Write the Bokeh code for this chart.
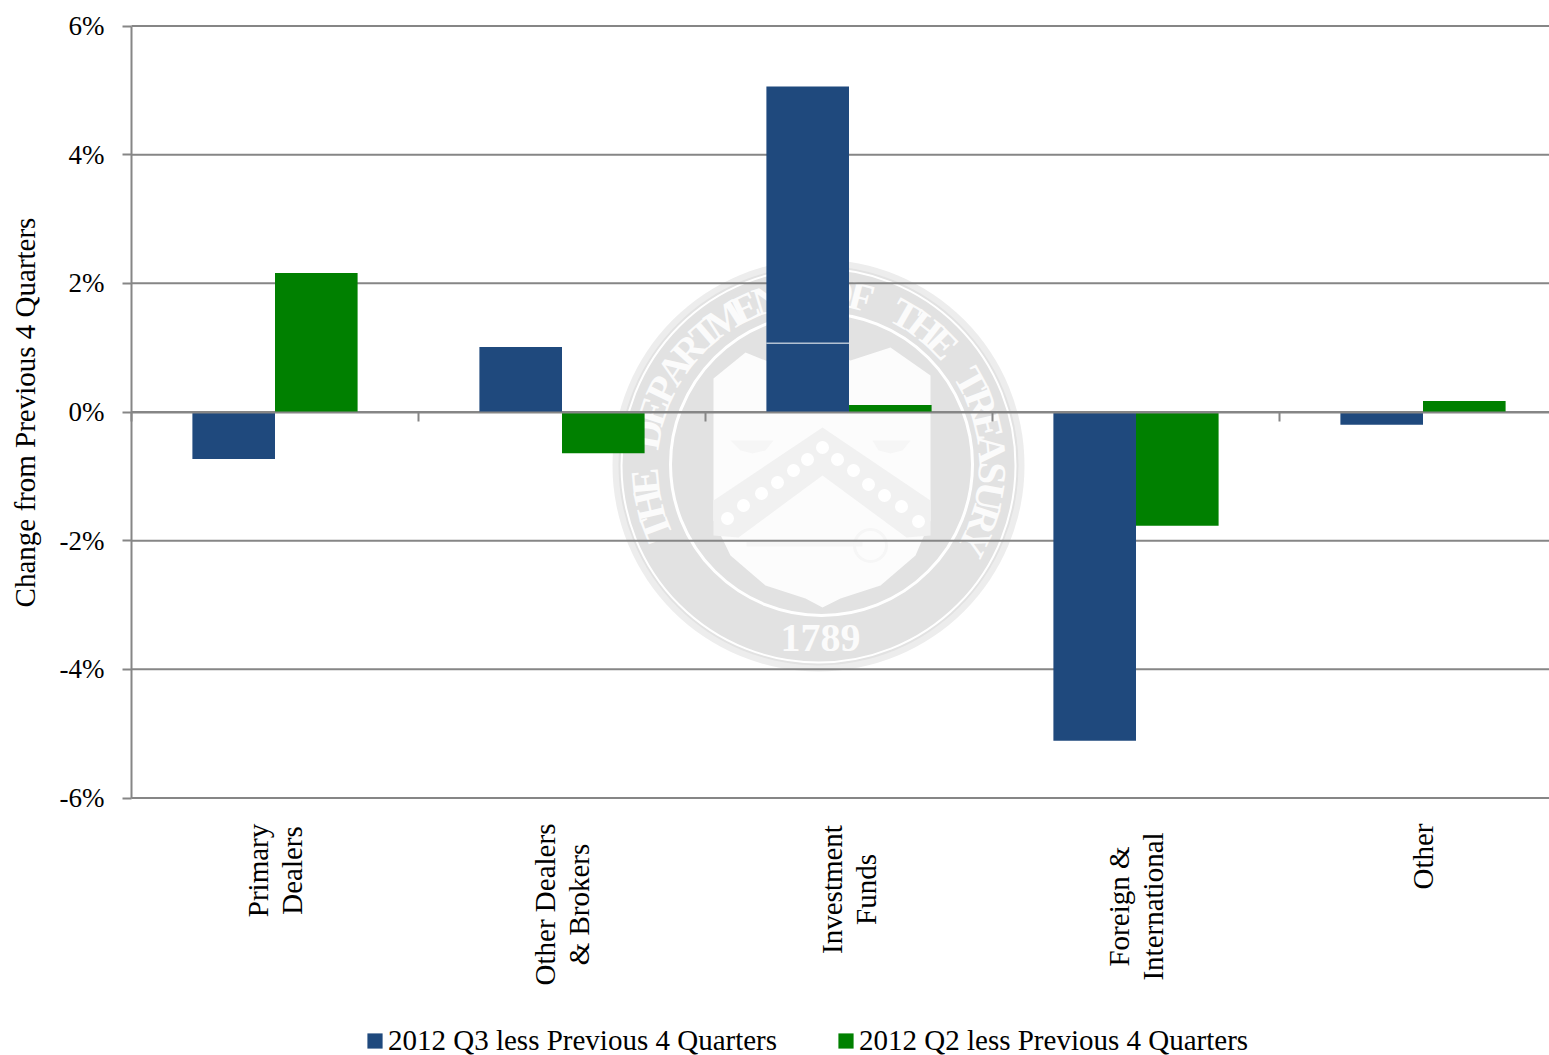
import math
from bokeh.plotting import figure
from bokeh.embed import file_html
from bokeh.resources import INLINE
from bokeh.core.properties import value
from bokeh.models import ColumnDataSource, FixedTicker, Legend, LegendItem, LinearAxis, Range1d, Label

categories = ["Primary\nDealers", "Other Dealers\n& Brokers", "Investment\nFunds", "Foreign &\nInternational", "Other"]
q3_label = "2012 Q3 less Previous 4 Quarters"
q2_label = "2012 Q2 less Previous 4 Quarters"
q3_values = [-0.73, 1.01, 5.06, -5.11, -0.20]
q2_values = [2.16, -0.64, 0.11, -1.77, 0.17]
y_ticks = [-6, -4, -2, 0, 2, 4, 6]
y_tick_labels = ["-6%", "-4%", "-2%", "0%", "2%", "4%", "6%"]
y_title = "Change from Previous 4 Quarters"
seal_text = "THE DEPARTMENT OF THE TREASURY"
seal_year = "1789"

FONT = "Liberation Serif"
FS = "29px"
W, H = 1549, 1055
LEFT, TOP, RIGHT, BOTTOM = 131, 25.5, 1549, 797.5
CAT_W = 287.0
BLUE, GREEN, GRID = "#1f497d", "#008000", "#868686"
SEAL, SEAL_LIGHT, SHIELD, CHEVRON = "#e2e2e2", "#ededed", "#fcfcfc", "#f1f1f1"


def px(x):
    return (x - LEFT) / CAT_W


def py(y):
    return 6 - (y - TOP) / ((BOTTOM - TOP) / 12)


def rad(r):
    return r / CAT_W


# The frame fills the canvas, so the texts below the plot are not cut by it.
p = figure(width=W, height=H, output_backend="svg", toolbar_location=None,
           x_range=Range1d(px(0), px(W)), y_range=Range1d(py(H), py(0)),
           min_border_left=0, min_border_right=0, min_border_top=0, min_border_bottom=0,
           x_axis_type=None, y_axis_type=None,
           outline_line_color=None, background_fill_color="white", border_fill_color="white")


def disc(cx, cy, r, fill=None, line=None, lw=1):
    p.circle(x=[px(cx)], y=[py(cy)], radius=rad(r), fill_color=fill, line_color=line, line_width=lw,
             fill_alpha=1 if fill else 0, level="image")


def poly(points, color):
    p.patch([px(a) for a, b in points], [py(b) for a, b in points], fill_color=color, line_color=None, level="image")


# Watermark seal, behind the grid and the bars
CX, CY = 818, 465
disc(CX, CY, 206, SEAL_LIGHT)
disc(CX, CY, 200, SEAL)
disc(CX, CY, 197, None, "white", 2)
disc(CX + 3, CY - 1, 151, None, "white", 3)

poly([(713, 378), (745, 352), (770, 362), (800, 352), (822, 350), (850, 360), (890, 347), (930, 375),
      (930, 520), (915, 555), (880, 585), (840, 598), (822, 607), (805, 598), (765, 585), (730, 555), (713, 520)], SHIELD)
poly([(713, 500), (822, 427), (930, 500), (930, 535), (906, 537), (822, 475), (738, 537), (713, 535)], CHEVRON)
poly([(730, 440), (773, 440), (765, 450), (752, 453), (740, 450)], "#f6f6f6")
poly([(872, 440), (910, 440), (902, 450), (890, 453), (878, 450)], "#f6f6f6")
poly([(746, 541), (862, 541), (862, 546), (746, 546)], "#f6f6f6")
disc(870, 545, 16, None, "#f6f6f6", 3)
dot_x = [727, 743, 761, 777, 793, 807, 822, 837, 853, 868, 884, 901, 918]
dot_y = [518, 505, 493, 482, 470, 459, 447, 459, 470, 484, 495, 506, 521]
p.scatter(x=[px(v) for v in dot_x], y=[py(v) for v in dot_y], size=13, fill_color="white", line_color=None, level="image")

n = len(seal_text)
start, end = math.radians(201), math.radians(-26)
xs, ys, angs, chars = [], [], [], []
for i, ch in enumerate(seal_text):
    a = start + (end - start) * i / (n - 1)
    xs.append(px(CX + 174 * math.cos(a)))
    ys.append(py(CY - 174 * math.sin(a)))
    angs.append(a - math.pi / 2)
    chars.append(ch)
p.text(x=xs, y=ys, text=chars, angle=angs, text_align="center", text_baseline="middle",
       text_color="#fbfbfb", text_font=value(FONT), text_font_size="40px", text_font_style="bold", level="image")
p.text(x=[px(820)], y=[py(637)], text=[seal_year], text_align="center", text_baseline="middle",
       text_color="#fbfbfb", text_font=value(FONT), text_font_size="40px", text_font_style="bold", level="image")

# Grid lines, over the seal and under the bars
x_end = px(W)
p.segment(x0=[0] * len(y_ticks), x1=[x_end] * len(y_ticks), y0=y_ticks, y1=y_ticks, line_color=GRID, line_width=2)

# Bars
x_centers = [i + 0.5 for i in range(len(categories))]
bar_w = 82.6 / CAT_W
src = ColumnDataSource(dict(x=x_centers, q3=q3_values, q2=q2_values,
                            x3=[c - bar_w / 2 for c in x_centers], x2=[c + bar_w / 2 for c in x_centers]))
r3 = p.vbar(x="x3", top="q3", bottom=0, width=bar_w, source=src, fill_color=BLUE, line_color=None)
r2 = p.vbar(x="x2", top="q2", bottom=0, width=bar_w, source=src, fill_color=GREEN, line_color=None)
# thin white hairline that crosses the tall Investment Funds bar
p.segment(x0=[x_centers[2] - bar_w], x1=[x_centers[2]], y0=[1.07], y1=[1.07], line_color="white", line_width=1)

# Axes
yax = LinearAxis(fixed_location=0, bounds=(y_ticks[0], y_ticks[-1]), ticker=FixedTicker(ticks=y_ticks),
                 major_label_overrides=dict(zip(y_ticks, y_tick_labels)),
                 axis_line_color=GRID, axis_line_width=2, major_tick_line_color=GRID, major_tick_line_width=2,
                 major_tick_out=9, major_tick_in=0, minor_tick_line_color=None,
                 major_label_text_font=FONT, major_label_text_font_size="27px", major_label_text_color="#000000",
                 major_label_standoff=18, axis_label=y_title, axis_label_text_font=FONT,
                 axis_label_text_font_size=FS, axis_label_text_font_style="normal",
                 axis_label_text_color="#000000", axis_label_standoff=16)
p.add_layout(yax, "left")

zero_ticks = [0, 1, 2, 3, 4]
zero = LinearAxis(fixed_location=0, bounds=(0, x_end), ticker=FixedTicker(ticks=zero_ticks),
                  major_label_overrides={t: "" for t in zero_ticks}, major_label_standoff=0,
                  axis_line_color=GRID, axis_line_width=2, major_tick_line_color=GRID, major_tick_line_width=2,
                  major_tick_out=9, major_tick_in=0, minor_tick_line_color=None)
p.add_layout(zero, "below")

# Category labels: a block under the plot, read from the top down, with centred lines
block_centre = [870, 904, 889, 906, 856]
for c, label, yc in zip(x_centers, categories, block_centre):
    p.add_layout(Label(x=c, y=py(yc), text=label, angle=90, angle_units="deg", text_align="center",
                       text_baseline="middle", text_font=FONT, text_font_size=FS, text_color="#000000",
                       text_line_height=1.06))

legend = Legend(items=[LegendItem(label=q3_label, renderers=[r3]), LegendItem(label=q2_label, renderers=[r2])],
                orientation="horizontal", location=(365, -2), border_line_color=None, background_fill_alpha=0,
                glyph_width=19, glyph_height=19, label_text_font=FONT, label_text_font_size=FS,
                label_text_color="#000000", spacing=59, padding=8, margin=0, label_standoff=4)
p.add_layout(legend, "center")

open("out.html", "w").write(file_html(p, INLINE))
